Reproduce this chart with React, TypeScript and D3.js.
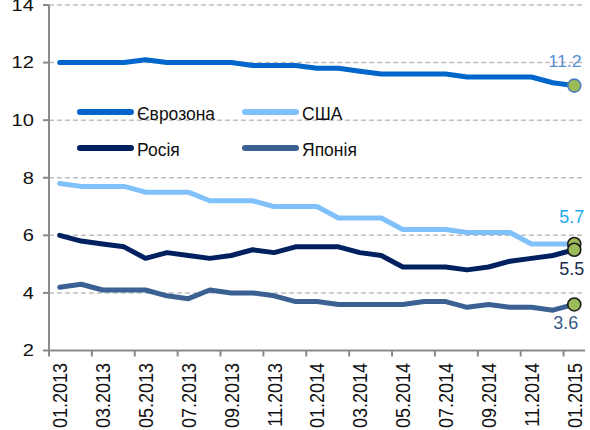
import React from "react";
import * as d3 from "d3";

// monthly points, 01.2013 .. 01.2015
const months = [
  "01.2013", "02.2013", "03.2013", "04.2013", "05.2013", "06.2013", "07.2013",
  "08.2013", "09.2013", "10.2013", "11.2013", "12.2013", "01.2014", "02.2014",
  "03.2014", "04.2014", "05.2014", "06.2014", "07.2014", "08.2014", "09.2014",
  "10.2014", "11.2014", "12.2014", "01.2015",
];

const eurozone = [12.0, 12.0, 12.0, 12.0, 12.1, 12.0, 12.0, 12.0, 12.0, 11.9, 11.9, 11.9, 11.8, 11.8, 11.7, 11.6, 11.6, 11.6, 11.6, 11.5, 11.5, 11.5, 11.5, 11.3, 11.2];
const usa = [7.8, 7.7, 7.7, 7.7, 7.5, 7.5, 7.5, 7.2, 7.2, 7.2, 7.0, 7.0, 7.0, 6.6, 6.6, 6.6, 6.2, 6.2, 6.2, 6.1, 6.1, 6.1, 5.7, 5.7, 5.7];
const russia = [6.0, 5.8, 5.7, 5.6, 5.2, 5.4, 5.3, 5.2, 5.3, 5.5, 5.4, 5.6, 5.6, 5.6, 5.4, 5.3, 4.9, 4.9, 4.9, 4.8, 4.9, 5.1, 5.2, 5.3, 5.5];
const japan = [4.2, 4.3, 4.1, 4.1, 4.1, 3.9, 3.8, 4.1, 4.0, 4.0, 3.9, 3.7, 3.7, 3.6, 3.6, 3.6, 3.6, 3.7, 3.7, 3.5, 3.6, 3.5, 3.5, 3.4, 3.6];

const yTicks = [2, 4, 6, 8, 10, 12, 14];

const series = [
  { name: "Єврозона", values: eurozone, color: "#0066cc", labelColor: "#5b8fd4", dot: "#4f7fc0" },
  { name: "США", values: usa, color: "#80c1fb", labelColor: "#1eaaf0", dot: "#1a1a1a" },
  { name: "Росія", values: russia, color: "#002060", labelColor: "#1d2b4c", dot: "#1a1a1a" },
  { name: "Японія", values: japan, color: "#3a6192", labelColor: "#3a5a86", dot: "#1a1a1a" },
];

const width = 590;
const height = 430;
const font = "Arial, 'Liberation Sans', sans-serif";

export default function App() {
  const x = d3.scaleBand().domain(months).range([49, 585]).padding(0);
  const cx = (m: string) => (x(m) as number) + x.bandwidth() / 2;
  const y = d3.scaleLinear().domain([2, 14]).range([350.5, 5]);

  const line = d3
    .line<number>()
    .x((_, i) => cx(months[i]))
    .y((d) => y(d));

  const last = months[months.length - 1];

  // end-of-line label placement (offsets from the last point)
  const labelPos = [
    { dx: -26, dy: -19, size: 16, sx: 1.12 },
    { dx: -15, dy: -21, size: 18, sx: 1.0 },
    { dx: -15, dy: 25, size: 18, sx: 1.0 },
    { dx: -21, dy: 25, size: 18, sx: 1.0 },
  ];

  const legend = [
    { x: 80, y: 112 },
    { x: 245, y: 112 },
    { x: 80, y: 148 },
    { x: 245, y: 148 },
  ];

  const bandTicks = months.map((_, i) => i).filter((i) => i % 2 === 0);

  return (
    <svg
      width={width}
      height={height}
      style={{ position: "absolute", left: 0, top: 0, background: "#fff" }}
    >
      {/* grid */}
      {yTicks
        .filter((t) => t > 2)
        .map((t) => (
          <line
            key={"g" + t}
            x1={49}
            x2={585}
            y1={y(t)}
            y2={y(t)}
            stroke="#bfbfbf"
            strokeWidth={1.5}
            strokeDasharray="5,3"
          />
        ))}

      {/* y axis */}
      <line x1={49} x2={49} y1={y(14)} y2={y(2)} stroke="#8a8a8a" strokeWidth={2} />
      {yTicks.map((t) => (
        <g key={"y" + t}>
          <line x1={43} x2={49} y1={y(t)} y2={y(t)} stroke="#8a8a8a" strokeWidth={2} />
          <text
            transform={`translate(34,${y(t)}) scale(1.22,1)`}
            textAnchor="end"
            dominantBaseline="central"
            fontFamily={font}
            fontSize={16.5}
            fill="#111"
          >
            {t}
          </text>
        </g>
      ))}

      {/* x axis */}
      <line x1={48} x2={585} y1={y(2)} y2={y(2)} stroke="#8a8a8a" strokeWidth={2} />
      {bandTicks.map((i) => (
        <line
          key={"t" + i}
          x1={x(months[i]) as number}
          x2={x(months[i]) as number}
          y1={y(2)}
          y2={y(2) + 6}
          stroke="#8a8a8a"
          strokeWidth={2}
        />
      ))}
      {bandTicks.map((i) => (
        <text
          key={"l" + i}
          transform={`translate(${cx(months[i])},363) scale(1.15,1) rotate(-90)`}
          textAnchor="end"
          dominantBaseline="central"
          fontFamily={font}
          fontSize={18}
          fill="#111"
        >
          {months[i]}
        </text>
      ))}

      {/* series */}
      {series.map((s) => (
        <path
          key={s.name}
          d={line(s.values) as string}
          fill="none"
          stroke={s.color}
          strokeWidth={5}
          strokeLinejoin="round"
          strokeLinecap="round"
        />
      ))}

      {/* last point markers */}
      {series.map((s) => (
        <circle
          key={"c" + s.name}
          cx={cx(last)}
          cy={y(s.values[s.values.length - 1])}
          r={6.5}
          fill="#9bbb59"
          stroke={s.dot}
          strokeWidth={1.6}
        />
      ))}

      {/* end labels */}
      {series.map((s, i) => {
        const p = labelPos[i];
        const v = s.values[s.values.length - 1];
        return (
          <text
            key={"v" + s.name}
            transform={`translate(${cx(last) + p.dx},${y(v) + p.dy}) scale(${p.sx},1)`}
            fontFamily={font}
            fontSize={p.size}
            fill={s.labelColor}
          >
            {v.toFixed(1)}
          </text>
        );
      })}

      {/* legend */}
      {series.map((s, i) => (
        <g key={"lg" + s.name} transform={`translate(${legend[i].x},${legend[i].y})`}>
          <line x1={0} x2={51} y1={0} y2={0} stroke={s.color} strokeWidth={6} strokeLinecap="round" />
          <text x={57} y={7.5} fontFamily={font} fontSize={17.5} fill="#111">
            {s.name}
          </text>
        </g>
      ))}
    </svg>
  );
}
